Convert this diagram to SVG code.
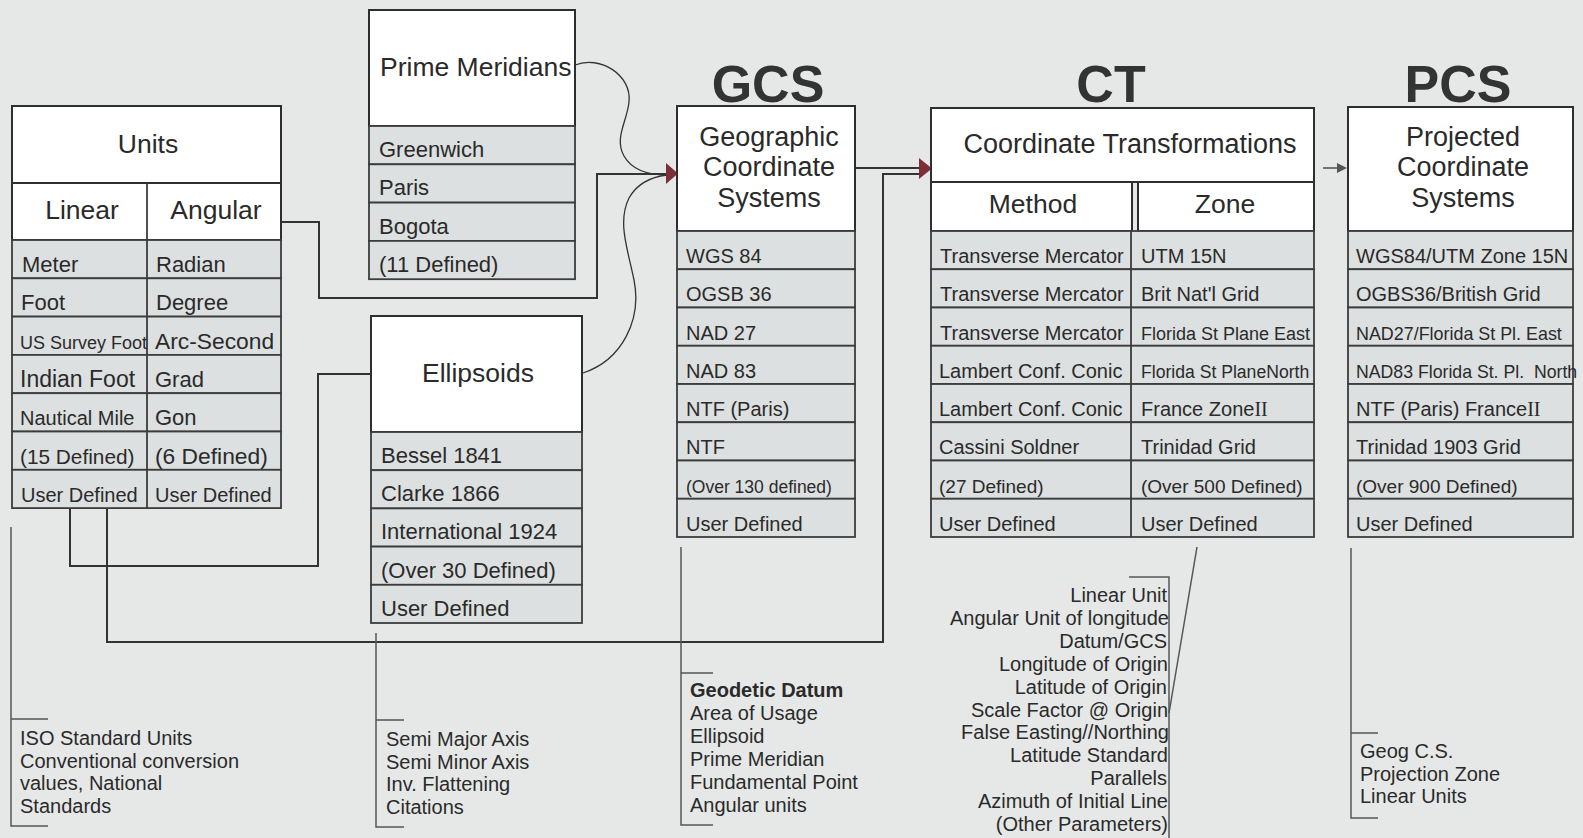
<svg xmlns="http://www.w3.org/2000/svg" width="1583" height="838" viewBox="0 0 1583 838">
<style>
.bg{fill:#e6e8e8}
.hd{fill:#ffffff;stroke:#2e2e2e;stroke-width:2}
.row{fill:#dde0e0;stroke:#3c3c3c;stroke-width:1.8}
.div{stroke:#3c3c3c;stroke-width:1.8}
text{font-family:"Liberation Sans",Arial,sans-serif;fill:#2a2a2a}
.ttl{font-size:26.5px}
.big{font-size:52px;font-weight:bold;fill:#333}
.d{font-size:20px}
.d22{font-size:22px}
.ann{font-size:20px}
.conn{fill:none;stroke:#333;stroke-width:2}
.curve{fill:none;stroke:#333;stroke-width:1.3}
.brk{fill:none;stroke:#555;stroke-width:1.5}
.arr{fill:#7b3038}
.rom{font-family:"Liberation Serif",serif}
</style>
<rect class="bg" x="0" y="0" width="1583" height="838"/>

<!-- big labels -->
<text class="big" x="768" y="102" text-anchor="middle">GCS</text>
<text class="big" x="1111" y="102" text-anchor="middle">CT</text>
<text class="big" x="1458" y="102" text-anchor="middle">PCS</text>

<g id="connectors">
  <polyline class="conn" points="281,222 319,222 319,298 597,298 597,174 667,174"/>
  <path class="curve" d="M575,65 C600,55 632,75 629,102 C627,122 614,138 624,156 C632,170 648,175 667,175"/>
  <path class="curve" d="M583,373 C622,360 642,320 634,280 C628,250 617,222 629,198 C637,184 650,177 667,175"/>
  <polygon class="arr" points="666,163 666,184 678,173.5"/>
  <line class="conn" x1="855" y1="168" x2="921" y2="168"/>
  <polyline class="conn" points="107,508 107,642 883,642 883,174 921,174"/>
  <polygon class="arr" points="919,158 919,179 932,168.5"/>
  <polyline class="conn" points="70,508 70,566 318,566 318,374 371,374"/>
  <line x1="1323" y1="168" x2="1338" y2="168" stroke="#555" stroke-width="1.6"/>
  <polygon points="1337,163 1337,173 1347,168" fill="#555"/>
  <!-- annotation brackets -->
  <polyline class="brk" points="48,719 11,719"/>
  <polyline class="brk" points="11,527 11,826 48,826"/>
  <polyline class="brk" points="376,633 376,827 404,827"/>
  <line class="brk" x1="376" y1="720" x2="404" y2="720"/>
  <polyline class="brk" points="681,547 681,825 713,825"/>
  <line class="brk" x1="681" y1="673" x2="713" y2="673"/>
  <polyline class="brk" points="1129,577 1169,577 1169,838"/>
  <line class="brk" x1="1197" y1="547" x2="1169" y2="713"/>
  <polyline class="brk" points="1351,548 1351,818 1378,818"/>
  <line class="brk" x1="1351" y1="733" x2="1378" y2="733"/>
</g>

<g id="units">
  <rect class="hd" x="12" y="106" width="269" height="77"/>
  <rect class="hd" x="12" y="183" width="269" height="57"/>
  <line class="div" x1="147" y1="183" x2="147" y2="240"/>
  <text class="ttl" x="148" y="153" text-anchor="middle">Units</text>
  <text class="ttl" x="82" y="219" text-anchor="middle" style="font-size:26.5px">Linear</text>
  <text class="ttl" x="216" y="219" text-anchor="middle" style="font-size:26.5px">Angular</text>
  <rect class="row" x="12" y="240" width="269" height="38.3"/>
  <rect class="row" x="12" y="278.3" width="269" height="38.3"/>
  <rect class="row" x="12" y="316.6" width="269" height="38.3"/>
  <rect class="row" x="12" y="354.9" width="269" height="38.3"/>
  <rect class="row" x="12" y="393.2" width="269" height="38.3"/>
  <rect class="row" x="12" y="431.5" width="269" height="38.3"/>
  <rect class="row" x="12" y="469.8" width="269" height="38.3"/>
  <line class="div" x1="147" y1="240" x2="147" y2="508"/>
  <text class="d22" x="22" y="272">Meter</text>
  <text class="d22" x="156" y="272">Radian</text>
  <text class="d22" x="21" y="310.3">Foot</text>
  <text class="d22" x="156" y="310.3">Degree</text>
  <text x="20" y="348.6" style="font-size:18px">US Survey Foot</text>
  <text class="d22" x="155" y="348.6" style="font-size:22.8px">Arc-Second</text>
  <text class="d22" x="20" y="386.9" style="font-size:23px">Indian Foot</text>
  <text class="d22" x="155" y="386.9">Grad</text>
  <text class="d" x="20" y="425.2">Nautical Mile</text>
  <text class="d22" x="155" y="425.2">Gon</text>
  <text x="20" y="463.5" style="font-size:20.8px">(15 Defined)</text>
  <text x="155" y="463.5" style="font-size:22.8px">(6 Defined)</text>
  <text class="d" x="21" y="501.8">User Defined</text>
  <text class="d" x="155" y="501.8">User Defined</text>
</g>

<g id="prime-meridians">
  <rect class="hd" x="369" y="10" width="206" height="116"/>
  <text class="ttl" x="380" y="76">Prime Meridians</text>
  <rect class="row" x="369" y="126" width="206" height="38.3"/>
  <rect class="row" x="369" y="164.3" width="206" height="38.3"/>
  <rect class="row" x="369" y="202.6" width="206" height="38.3"/>
  <rect class="row" x="369" y="240.9" width="206" height="38.3"/>
  <text class="d22" x="379" y="157">Greenwich</text>
  <text class="d22" x="379" y="195.3">Paris</text>
  <text class="d22" x="379" y="233.6">Bogota</text>
  <text class="d22" x="379" y="271.9">(11 Defined)</text>
</g>

<g id="ellipsoids">
  <rect class="hd" x="371" y="316" width="211" height="116"/>
  <text class="ttl" x="478" y="382" text-anchor="middle">Ellipsoids</text>
  <rect class="row" x="371" y="432" width="211" height="38.2"/>
  <rect class="row" x="371" y="470.2" width="211" height="38.2"/>
  <rect class="row" x="371" y="508.4" width="211" height="38.2"/>
  <rect class="row" x="371" y="546.6" width="211" height="38.2"/>
  <rect class="row" x="371" y="584.8" width="211" height="38.2"/>
  <text class="d22" x="381" y="463">Bessel 1841</text>
  <text class="d22" x="381" y="501.2">Clarke 1866</text>
  <text class="d22" x="381" y="539.4">International 1924</text>
  <text class="d22" x="381" y="577.6">(Over 30 Defined)</text>
  <text class="d22" x="381" y="615.8">User Defined</text>
</g>

<g id="gcs">
  <rect class="hd" x="677" y="106" width="178" height="125"/>
  <text class="ttl" x="769" y="146" text-anchor="middle" style="font-size:27px">Geographic</text>
  <text class="ttl" x="769" y="176" text-anchor="middle" style="font-size:27px">Coordinate</text>
  <text class="ttl" x="769" y="207" text-anchor="middle" style="font-size:27px">Systems</text>
  <rect class="row" x="677" y="231" width="178" height="38.25"/>
  <rect class="row" x="677" y="269.25" width="178" height="38.25"/>
  <rect class="row" x="677" y="307.5" width="178" height="38.25"/>
  <rect class="row" x="677" y="345.75" width="178" height="38.25"/>
  <rect class="row" x="677" y="384" width="178" height="38.25"/>
  <rect class="row" x="677" y="422.25" width="178" height="38.25"/>
  <rect class="row" x="677" y="460.5" width="178" height="38.25"/>
  <rect class="row" x="677" y="498.75" width="178" height="38.25"/>
  <text class="d" x="686" y="263">WGS 84</text>
  <text class="d" x="686" y="301.25">OGSB 36</text>
  <text class="d" x="686" y="339.5">NAD 27</text>
  <text class="d" x="686" y="377.75">NAD 83</text>
  <text class="d" x="686" y="416">NTF (Paris)</text>
  <text class="d" x="686" y="454.25">NTF</text>
  <text x="686" y="492.5" style="font-size:17.5px">(Over 130 defined)</text>
  <text class="d" x="686" y="530.75">User Defined</text>
</g>

<g id="ct">
  <rect class="hd" x="931" y="108" width="383" height="74"/>
  <text class="ttl" x="1130" y="153" text-anchor="middle" style="font-size:27px">Coordinate Transformations</text>
  <rect class="hd" x="931" y="182" width="201" height="49"/>
  <rect class="hd" x="1138" y="182" width="176" height="49"/>
  <text class="ttl" x="1033" y="213" text-anchor="middle">Method</text>
  <text class="ttl" x="1225" y="213" text-anchor="middle">Zone</text>
  <rect class="row" x="931" y="231" width="383" height="38.25"/>
  <rect class="row" x="931" y="269.25" width="383" height="38.25"/>
  <rect class="row" x="931" y="307.5" width="383" height="38.25"/>
  <rect class="row" x="931" y="345.75" width="383" height="38.25"/>
  <rect class="row" x="931" y="384" width="383" height="38.25"/>
  <rect class="row" x="931" y="422.25" width="383" height="38.25"/>
  <rect class="row" x="931" y="460.5" width="383" height="38.25"/>
  <rect class="row" x="931" y="498.75" width="383" height="38.25"/>
  <line class="div" x1="1131" y1="231" x2="1131" y2="537"/>
  <text class="d" x="940" y="263">Transverse Mercator</text>
  <text class="d" x="1141" y="263">UTM 15N</text>
  <text class="d" x="940" y="301.25">Transverse Mercator</text>
  <text class="d" x="1141" y="301.25">Brit Nat'l Grid</text>
  <text class="d" x="940" y="339.5">Transverse Mercator</text>
  <text x="1141" y="339.5" style="font-size:18px">Florida St Plane East</text>
  <text class="d" x="939" y="377.75">Lambert Conf. Conic</text>
  <text x="1141" y="377.75" style="font-size:17.6px">Florida St PlaneNorth</text>
  <text class="d" x="939" y="416">Lambert Conf. Conic</text>
  <text class="d" x="1141" y="416">France Zone<tspan class="rom">II</tspan></text>
  <text class="d" x="939" y="454.25">Cassini Soldner</text>
  <text class="d" x="1141" y="454.25">Trinidad Grid</text>
  <text x="939" y="492.5" style="font-size:19px">(27 Defined)</text>
  <text x="1141" y="492.5" style="font-size:19px">(Over 500 Defined)</text>
  <text class="d" x="939" y="530.75">User Defined</text>
  <text class="d" x="1141" y="530.75">User Defined</text>
</g>

<g id="pcs">
  <rect class="hd" x="1348" y="107" width="225" height="124"/>
  <text class="ttl" x="1463" y="146" text-anchor="middle" style="font-size:27px">Projected</text>
  <text class="ttl" x="1463" y="176" text-anchor="middle" style="font-size:27px">Coordinate</text>
  <text class="ttl" x="1463" y="207" text-anchor="middle" style="font-size:27px">Systems</text>
  <rect class="row" x="1348" y="231" width="225" height="38.25"/>
  <rect class="row" x="1348" y="269.25" width="225" height="38.25"/>
  <rect class="row" x="1348" y="307.5" width="225" height="38.25"/>
  <rect class="row" x="1348" y="345.75" width="225" height="38.25"/>
  <rect class="row" x="1348" y="384" width="225" height="38.25"/>
  <rect class="row" x="1348" y="422.25" width="225" height="38.25"/>
  <rect class="row" x="1348" y="460.5" width="225" height="38.25"/>
  <rect class="row" x="1348" y="498.75" width="225" height="38.25"/>
  <text class="d" x="1356" y="263">WGS84/UTM Zone 15N</text>
  <text class="d" x="1356" y="301.25">OGBS36/British Grid</text>
  <text x="1356" y="339.5" style="font-size:17.9px">NAD27/Florida St Pl. East</text>
  <text x="1356" y="377.75" style="font-size:17.7px">NAD83 Florida St. Pl. &#160;North</text>
  <text class="d" x="1356" y="416">NTF (Paris) France<tspan class="rom">II</tspan></text>
  <text class="d" x="1356" y="454.25">Trinidad 1903 Grid</text>
  <text x="1356" y="492.5" style="font-size:19px">(Over 900 Defined)</text>
  <text class="d" x="1356" y="530.75">User Defined</text>
</g>

<g id="units-notes">
  <text class="ann" x="20" y="745">ISO Standard Units</text>
  <text class="ann" x="20" y="767.6">Conventional conversion</text>
  <text class="ann" x="20" y="790.2">values, National</text>
  <text class="ann" x="20" y="812.8">Standards</text>
</g>
<g id="ellipsoid-notes">
  <text class="ann" x="386" y="746">Semi Major Axis</text>
  <text class="ann" x="386" y="768.5">Semi Minor Axis</text>
  <text class="ann" x="386" y="791">Inv. Flattening</text>
  <text class="ann" x="386" y="813.5">Citations</text>
</g>
<g id="gcs-notes">
  <text class="ann" x="690" y="697" font-weight="bold">Geodetic Datum</text>
  <text class="ann" x="690" y="719.9">Area of Usage</text>
  <text class="ann" x="690" y="742.8">Ellipsoid</text>
  <text class="ann" x="690" y="765.7">Prime Meridian</text>
  <text class="ann" x="690" y="788.6">Fundamental Point</text>
  <text class="ann" x="690" y="811.5">Angular units</text>
</g>
<g id="ct-notes">
  <text class="ann" x="1167" y="602" text-anchor="end">Linear Unit</text>
  <text class="ann" x="1169" y="624.9" text-anchor="end">Angular Unit of longitude</text>
  <text class="ann" x="1167" y="647.8" text-anchor="end">Datum/GCS</text>
  <text class="ann" x="1168" y="670.7" text-anchor="end">Longitude of Origin</text>
  <text class="ann" x="1167" y="693.6" text-anchor="end">Latitude of Origin</text>
  <text class="ann" x="1168" y="716.5" text-anchor="end">Scale Factor @ Origin</text>
  <text class="ann" x="1169" y="739.4" text-anchor="end">False Easting//Northing</text>
  <text class="ann" x="1168" y="762.3" text-anchor="end">Latitude Standard</text>
  <text class="ann" x="1167" y="785.2" text-anchor="end">Parallels</text>
  <text class="ann" x="1168" y="808.1" text-anchor="end">Azimuth of Initial Line</text>
  <text class="ann" x="1168" y="831" text-anchor="end">(Other Parameters)</text>
</g>
<g id="pcs-notes">
  <text class="ann" x="1360" y="758">Geog C.S.</text>
  <text class="ann" x="1360" y="780.7">Projection Zone</text>
  <text class="ann" x="1360" y="803.4">Linear Units</text>
</g>
</svg>
